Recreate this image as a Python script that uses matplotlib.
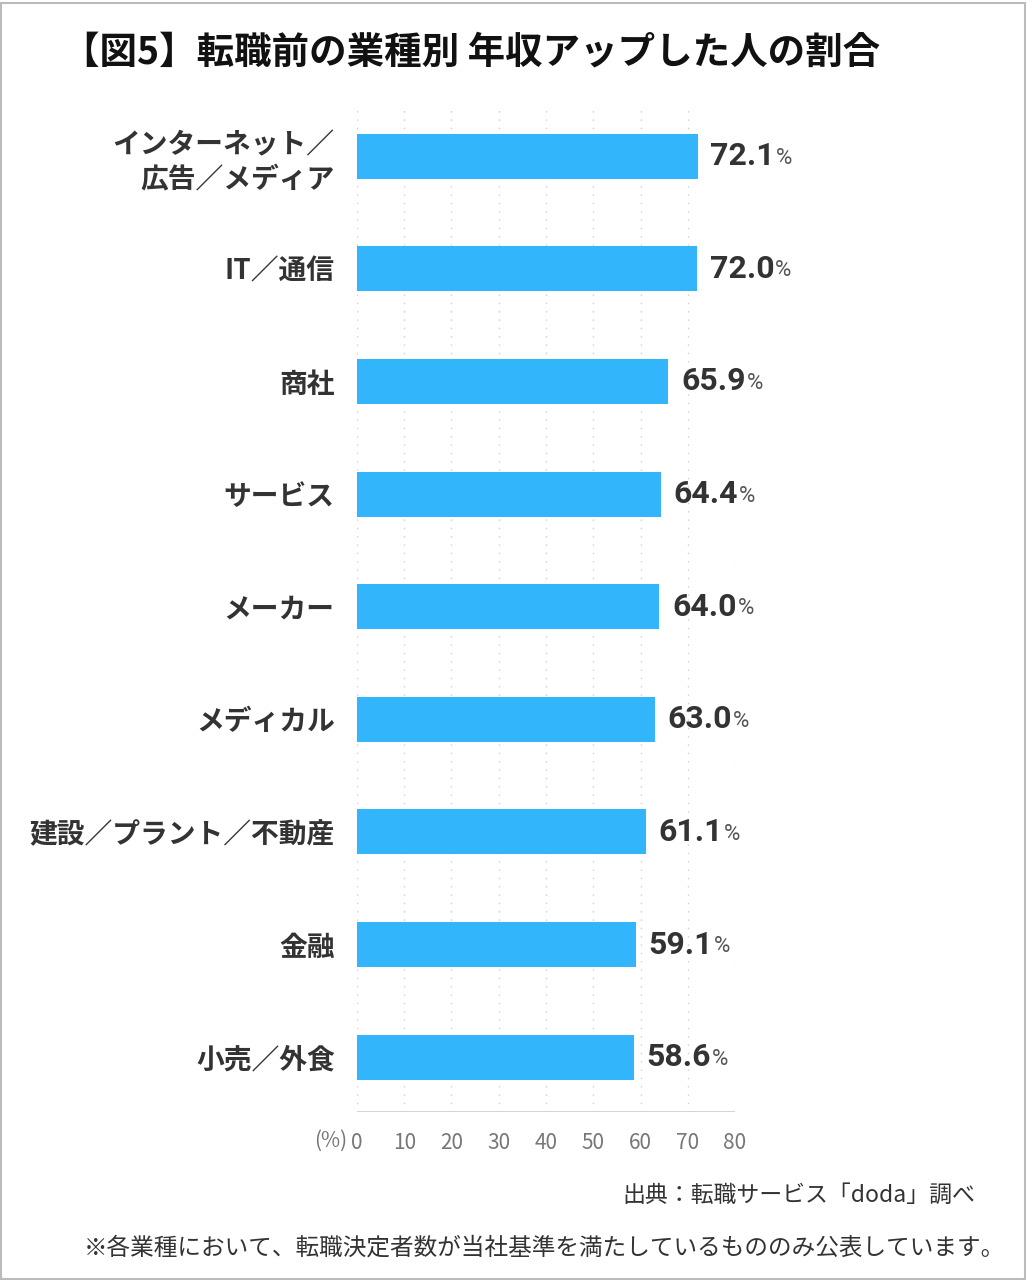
import numpy as np
from matplotlib import pyplot as plt
from matplotlib.patches import Rectangle

plt.rcParams['font.family'] = ['Noto Sans CJK JP', 'DejaVu Sans']

# DATA
industries = ['インターネット／\n広告／メディア', 'IT／通信', '商社', 'サービス', 'メーカー',
              'メディカル', '建設／プラント／不動産', '金融', '小売／外食']
rates = [72.1, 72.0, 65.9, 64.4, 64.0, 63.0, 61.1, 59.1, 58.6]
xticks = [0, 10, 20, 30, 40, 50, 60, 70, 80]

title = '【図5】転職前の業種別 年収アップした人の割合'
source = '出典：転職サービス「doda」調べ'
note = '※各業種において、転職決定者数が当社基準を満たしているもののみ公表しています。'

bar_color = '#33b5fc'
text_color = '#333333'

fig = plt.figure(figsize=(10.27, 12.8), dpi=100)
ax = fig.add_axes([0.3476, 0.131, 0.3681, 0.783])

pos = np.arange(len(industries))
ax.barh(pos, rates, height=0.40, color=bar_color, zorder=2)
ax.set_xlim(0, 80)
ax.set_ylim(8.49, -0.41)

# dotted vertical grid
for t in xticks:
    ax.axvline(t, color='#cfcfcf', lw=1.0, ls=(0, (1, 5)), zorder=1)
ax.axhline(8.49, color='#d5d5d5', lw=1.5, zorder=1)

for s in ax.spines.values():
    s.set_visible(False)
ax.set_xticks(xticks)
ax.set_xticklabels([str(t) for t in xticks], fontsize=15, color='#777777')
ax.tick_params(axis='x', length=0, pad=14)
ax.set_yticks(pos)
ax.set_yticklabels(industries, fontsize=20, fontweight='bold', color=text_color,
                   linespacing=1.3)
ax.tick_params(axis='y', length=0, pad=16)
ax.text(-2.0, 8.49 + 0.155, '(%)', ha='right', va='top',
        fontsize=15, color='#777777')

# value labels: number, then a smaller % right after it
fig.canvas.draw()
renderer = fig.canvas.get_renderer()
for p, v in zip(pos, rates):
    t = ax.annotate(f'{v:.1f}', (v, p), xytext=(9, 0), textcoords='offset points',
                    ha='left', va='center', fontsize=23, fontweight='bold',
                    color=text_color, family=['Roboto'], annotation_clip=False)
    bb = t.get_window_extent(renderer)
    xd = ax.transData.inverted().transform((bb.x1 + 1, 0))[0]
    ax.annotate('%', (xd, p), xytext=(0, -1.5), textcoords='offset points',
                ha='left', va='center', fontsize=16, color='#555555',
                family=['Roboto'], annotation_clip=False)

fig.text(0.060, 0.959, title, fontsize=27, fontweight='bold', color='#111111',
         ha='left', va='center')
fig.text(0.950, 0.066, source, fontsize=16.5, color='#333333', ha='right', va='center')
fig.text(0.082, 0.025, note, fontsize=17, color='#333333', ha='left', va='center')

fig.add_artist(Rectangle((0.001, 0.001), 0.997, 0.997, transform=fig.transFigure,
                         fill=False, edgecolor='#bbbbbb', lw=1.5))

plt.savefig('out.png', dpi=100)
plt.close()
